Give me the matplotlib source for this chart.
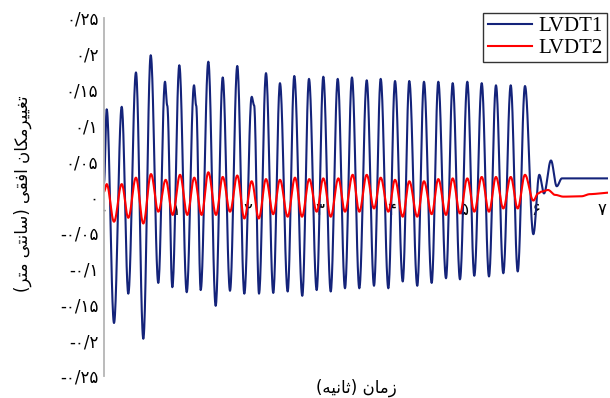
import numpy as np
import matplotlib
matplotlib.use("Agg")
import matplotlib.pyplot as plt
from matplotlib.transforms import ScaledTranslation

# ---- data -----------------------------------------------------------------
# LVDT1: times (s) of successive turning points and the displacement (cm) there
lvdt1_t = [0.0, 0.0375, 0.139, 0.246, 0.3375, 0.444, 0.546, 0.649, 0.754, 0.847,
           0.878, 0.949, 1.046, 1.149, 1.25, 1.28, 1.343, 1.449, 1.551, 1.649,
           1.75, 1.851, 1.949, 2.051, 2.085, 2.153, 2.25, 2.351, 2.444, 2.551,
           2.643, 2.754, 2.847, 2.954, 3.046, 3.149, 3.246, 3.347, 3.444, 3.546,
           3.649, 3.75, 3.843, 3.949, 4.042, 4.149, 4.24, 4.351, 4.444, 4.551,
           4.643, 4.75, 4.843, 4.944, 5.046, 5.143, 5.246, 5.347, 5.444, 5.546,
           5.649, 5.746, 5.847, 5.963, 6.046, 6.111, 6.208, 6.288, 6.36, 7.0]
lvdt1_v = [0.02, 0.1225, -0.176, 0.126, -0.135, 0.174, -0.198, 0.198, -0.120, 0.161,
           0.128, -0.126, 0.184, -0.133, 0.156, 0.128, -0.130, 0.189, -0.152, 0.167,
           -0.131, 0.183, -0.135, 0.140, 0.128, -0.135, 0.173, -0.134, 0.159, -0.132,
           0.169, -0.138, 0.165, -0.130, 0.168, -0.132, 0.165, -0.1275, 0.167, -0.1275,
           0.163, -0.124, 0.165, -0.1275, 0.162, -0.118, 0.162, -0.124, 0.161, -0.120,
           0.161, -0.1135, 0.159, -0.115, 0.161, -0.110, 0.159, -0.111, 0.156, -0.1065,
           0.156, -0.104, 0.155, -0.052, 0.031, 0.005, 0.051, 0.015, 0.026, 0.026]

# LVDT2: same layout
lvdt2_t = [0.0, 0.0375, 0.139, 0.246, 0.3375, 0.444, 0.546, 0.653, 0.754, 0.857,
           0.954, 1.056, 1.157, 1.254, 1.356, 1.449, 1.556, 1.649, 1.75, 1.851,
           1.949, 2.051, 2.15, 2.25, 2.35, 2.444, 2.551, 2.653, 2.75, 2.851,
           2.954, 3.046, 3.149, 3.255, 3.347, 3.454, 3.546, 3.649, 3.75, 3.843,
           3.949, 4.042, 4.149, 4.24, 4.351, 4.444, 4.551, 4.643, 4.75, 4.843,
           4.944, 5.046, 5.143, 5.246, 5.347, 5.444, 5.546, 5.649, 5.746, 5.847,
           5.963, 6.03, 6.076, 6.167, 6.264, 6.38, 6.63, 6.75, 7.0]
lvdt2_v = [0.0075, 0.018, -0.0345, 0.018, -0.029, 0.027, -0.037, 0.032, -0.0205, 0.024,
           -0.025, 0.031, -0.025, 0.027, -0.025, 0.0345, -0.025, 0.028, -0.0205, 0.030,
           -0.030, 0.022, -0.030, 0.025, -0.024, 0.024, -0.0275, 0.027, -0.0275, 0.025,
           -0.0205, 0.026, -0.0275, 0.026, -0.0205, 0.031, -0.0205, 0.031, -0.016, 0.027,
           -0.0205, 0.024, -0.0275, 0.022, -0.0275, 0.022, -0.024, 0.025, -0.025, 0.026,
           -0.023, 0.026, -0.0205, 0.028, -0.0205, 0.028, -0.016, 0.028, -0.016, 0.031,
           -0.005, 0.005, 0.0075, 0.0098, 0.003, 0.0005, 0.001, 0.004, 0.006]

series_names = ["LVDT1", "LVDT2"]
series_colors = ["#14237a", "#ff0000"]

x_ticks = [0, 1, 2, 3, 4, 5, 6, 7]
x_tick_labels = ["\u06f0", "\u06f1", "\u06f2", "\u06f3", "\u06f4", "\u06f5", "\u06f6", "\u06f7"]
y_ticks = [0.25, 0.2, 0.15, 0.1, 0.05, 0.0, -0.05, -0.1, -0.15, -0.2, -0.25]
y_tick_labels = ["\u06f0/\u06f2\u06f5", "\u06f0/\u06f2", "\u06f0/\u06f1\u06f5", "\u06f0/\u06f1",
                 "\u06f0/\u06f0\u06f5", "\u06f0",
                 "-\u06f0/\u06f0\u06f5", "-\u06f0/\u06f1", "-\u06f0/\u06f1\u06f5",
                 "-\u06f0/\u06f2", "-\u06f0/\u06f2\u06f5"]


def visual_rtl(glyphs):
    """Return contextual Persian glyphs (logical order) laid out left to right."""
    swap = {"(": ")", ")": "("}
    return "".join(swap.get(g, g) for g in reversed(glyphs))


# "زمان (ثانیه)" in contextual forms
x_label = visual_rtl(["\ufeaf", "\ufee3", "\ufe8e", "\ufee5", " ", "(",
                      "\ufe9b", "\ufe8e", "\ufee7", "\ufbff", "\ufeea", ")"])
# "تغییرمکان افقی (سانتی متر)" in contextual forms
y_label = visual_rtl(["\ufe97", "\ufed0", "\ufbff", "\ufbff", "\ufeae",
                      "\ufee3", "\ufb91", "\ufe8e", "\ufee5", " ",
                      "\ufe8d", "\ufed3", "\ufed8", "\ufbfd", " ", "(",
                      "\ufeb3", "\ufe8e", "\ufee7", "\ufe98", "\ufbfd", " ",
                      "\ufee3", "\ufe98", "\ufeae", ")"])


def smooth_path(t, v, n=24):
    """Join successive turning points with half-cosine segments."""
    t = np.asarray(t, float)
    v = np.asarray(v, float)
    u = np.linspace(0.0, 1.0, n, endpoint=False)
    w = (1.0 - np.cos(np.pi * u)) / 2.0
    ts = [t[i] + (t[i + 1] - t[i]) * u for i in range(len(t) - 1)]
    vs = [v[i] + (v[i + 1] - v[i]) * w for i in range(len(t) - 1)]
    return np.concatenate(ts + [t[-1:]]), np.concatenate(vs + [v[-1:]])


# ---- figure ---------------------------------------------------------------
fig = plt.figure(figsize=(6.10, 3.98), dpi=100)
ax = fig.add_axes([104 / 610, 22 / 398, 504 / 610, 358 / 398])

for (t, v), name, color in zip([(lvdt1_t, lvdt1_v), (lvdt2_t, lvdt2_v)],
                               series_names, series_colors):
    xs, ys = smooth_path(t, v)
    ax.plot(xs, ys, color=color, lw=1.5, label=name, solid_joinstyle="round")

ax.set_xlim(0, 7)
ax.set_ylim(-0.25, 0.25)

for side in ("top", "right"):
    ax.spines[side].set_visible(False)
ax.spines["left"].set_color("#b5b5b5")
ax.spines["left"].set_linewidth(1.3)
ax.spines["bottom"].set_position(("data", 0))
ax.spines["bottom"].set_color("none")

ax.set_xticks(x_ticks)
ax.set_xticklabels(x_tick_labels, fontsize=12, family="DejaVu Sans")
ax.set_yticks(y_ticks)
ax.set_yticklabels(y_tick_labels, fontsize=12, family="DejaVu Sans")
ax.tick_params(axis="both", length=0)
ax.tick_params(axis="x", pad=3)
ax.tick_params(axis="y", pad=4)

# keep the last time label inside the figure edge
last = ax.get_xticklabels()[-1]
last.set_transform(last.get_transform()
                   + ScaledTranslation(-6.5 / 100, 0, fig.dpi_scale_trans))

ax.set_xlabel(x_label, fontsize=12, family="DejaVu Sans", va="center")
ax.xaxis.set_label_coords(0.5, -0.034)
ax.set_ylabel(y_label, fontsize=12, family="DejaVu Sans", va="center")
ax.yaxis.set_label_coords(-0.161, 0.51)

leg = ax.legend(loc="upper right", bbox_to_anchor=(607 / 610, 1 - 12.7 / 398),
                bbox_transform=fig.transFigure, borderaxespad=0.0,
                prop={"family": "Liberation Serif", "size": 15},
                handlelength=2.15, handletextpad=0.3, labelspacing=0.1,
                borderpad=0.2, fancybox=False, framealpha=1.0)
leg.get_frame().set_edgecolor("#333333")
leg.get_frame().set_linewidth(1.0)

fig.savefig("out.png", dpi=100)
